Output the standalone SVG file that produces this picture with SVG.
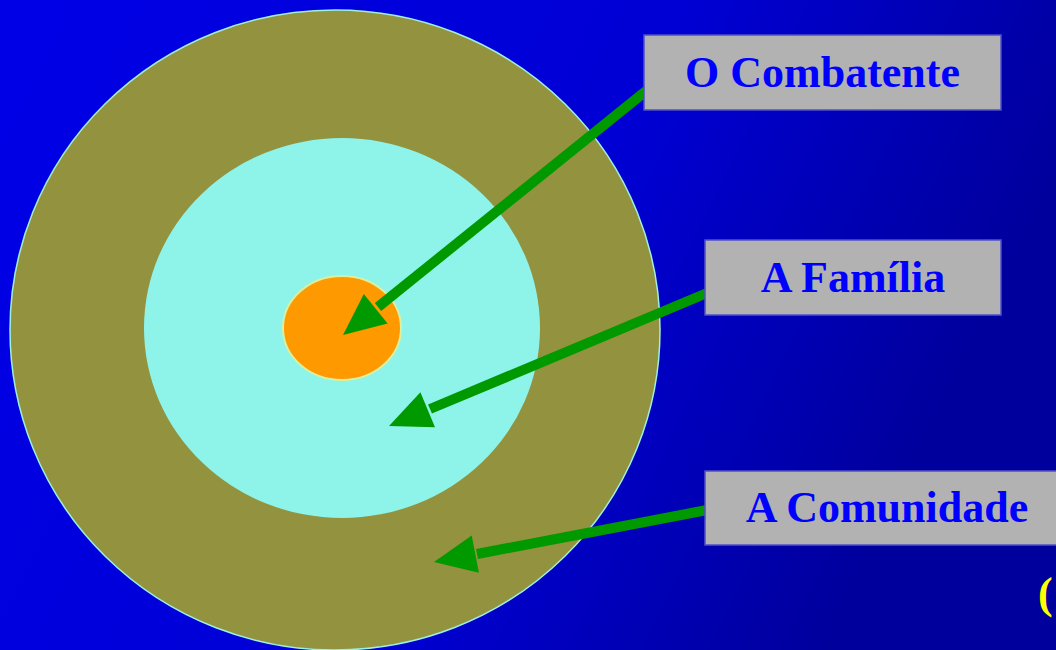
<svg xmlns="http://www.w3.org/2000/svg" width="1056" height="650" viewBox="0 0 1056 650">
<defs>
<linearGradient id="bg" x1="0" y1="0" x2="1" y2="0.3">
<stop offset="0" stop-color="#0000e8"/>
<stop offset="0.6" stop-color="#0000d4"/>
<stop offset="1" stop-color="#00009c"/>
</linearGradient>
</defs>
<style>
.box{fill:#b2b2b2;stroke:#5050c8;stroke-width:1.5}
.lbl{font-family:"Liberation Serif","Times New Roman",serif;font-weight:bold;font-size:44px;fill:#0000ff;text-anchor:middle}
.arr{stroke:#009900;stroke-width:10;fill:none}
.head{fill:#009900}
</style>
<rect x="0" y="0" width="1056" height="650" fill="url(#bg)"/>
<g id="rings">
<ellipse cx="335" cy="330" rx="325" ry="320" fill="#93923e" stroke="#9ef0e0" stroke-width="1.5"/>
<ellipse cx="342" cy="328" rx="198" ry="190" fill="#8ef4ea"/>
<ellipse cx="342" cy="328" rx="59" ry="52" fill="#ff9900" stroke="#d8f0a0" stroke-width="2"/>
</g>
<g id="connectors">
<line class="arr" x1="646" y1="91" x2="378" y2="307"/>
<polygon class="head" points="343,335 387.6,323.5 363.8,293.9"/>
<line class="arr" x1="707" y1="293" x2="430" y2="409"/>
<polygon class="head" points="389,426 435,427.3 420.4,392.3"/>
<line class="arr" x1="707" y1="510" x2="477" y2="554"/>
<polygon class="head" points="434,562 478.9,572.8 471.7,535.4"/>
</g>
<g id="combatente">
<rect class="box" x="644" y="35" width="357" height="75"/>
<text class="lbl" x="822.5" y="87">O Combatente</text>
</g>
<g id="familia">
<rect class="box" x="705" y="240" width="296" height="75"/>
<text class="lbl" x="853" y="292">A Família</text>
</g>
<g id="comunidade">
<rect class="box" x="705" y="471" width="364" height="74"/>
<text class="lbl" x="887" y="522">A Comunidade</text>
</g>
<text x="1038" y="608" font-family="Liberation Serif, serif" font-weight="bold" font-size="44" fill="#ffff00">(</text>
</svg>
